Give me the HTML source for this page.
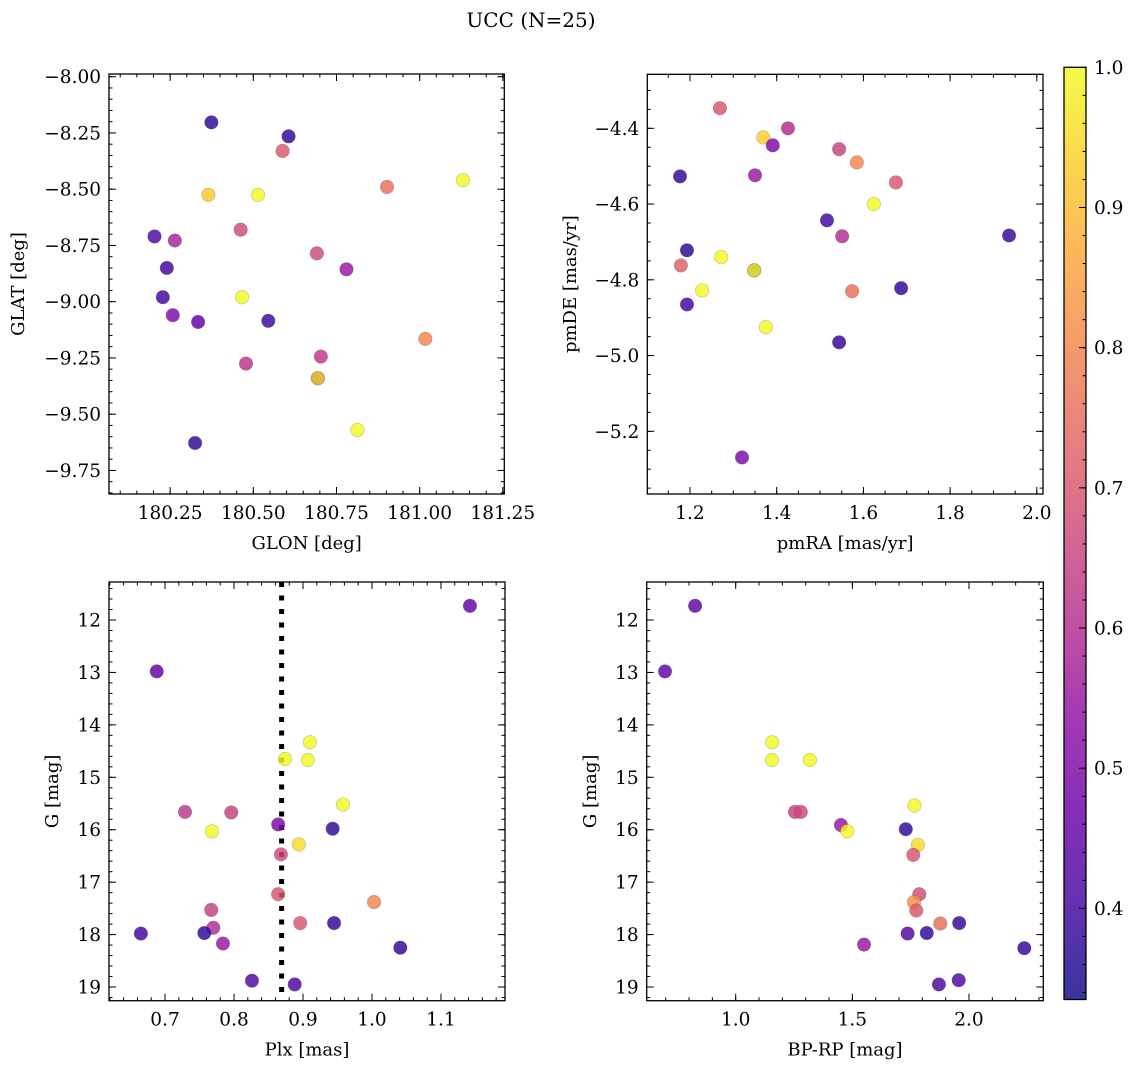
<!DOCTYPE html>
<html><head><meta charset="utf-8"><style>
html,body{margin:0;padding:0;background:#fff}
svg{display:block;font-family:"DejaVu Serif","Liberation Serif",serif}
</style></head><body>
<svg id="fig" width="1136" height="1067" viewBox="0 0 1136 1067" xmlns="http://www.w3.org/2000/svg">
<defs>
<linearGradient id="cbgrad" x1="0" y1="1" x2="0" y2="0">
<stop offset="0" stop-color="#3d399f"/>
</linearGradient>
</defs>
<text x="531" y="27" text-anchor="middle" font-size="20">UCC (N=25)</text>
<g id="plots"></g>
</svg>
<script>
// ---- data ----
const glon = [180.694,180.374,180.606,180.588,180.365,180.514,180.902,181.13,180.203,180.264,180.462,180.24,180.691,180.78,180.228,180.466,180.258,180.334,180.545,181.017,180.703,180.478,180.694,180.813,180.325];
const glat = [-9.34,-8.203,-8.265,-8.33,-8.525,-8.525,-8.49,-8.46,-8.71,-8.728,-8.68,-8.85,-8.785,-8.856,-8.98,-8.98,-9.06,-9.09,-9.085,-9.165,-9.244,-9.275,-9.34,-9.57,-9.628];
const probTL = [0.4,0.37,0.38,0.7,0.92,1.0,0.75,1.0,0.42,0.58,0.67,0.4,0.67,0.55,0.4,1.0,0.5,0.45,0.4,0.8,0.63,0.62,0.95,1.0,0.38];

const pmra = [1.269,1.426,1.369,1.391,1.177,1.350,1.544,1.585,1.675,1.624,1.516,1.551,1.936,1.193,1.272,1.179,1.348,1.348,1.228,1.574,1.687,1.193,1.375,1.544,1.320];
const pmde = [-4.347,-4.40,-4.424,-4.445,-4.527,-4.524,-4.455,-4.49,-4.543,-4.60,-4.643,-4.685,-4.683,-4.722,-4.74,-4.762,-4.775,-4.775,-4.828,-4.83,-4.822,-4.865,-4.925,-4.965,-5.269];
const probTR = [0.7,0.6,0.93,0.5,0.38,0.55,0.65,0.8,0.7,1.0,0.4,0.6,0.38,0.37,1.0,0.72,0.4,1.0,1.0,0.75,0.38,0.4,1.0,0.38,0.5];

const plx = [1.142,0.688,0.874,0.910,0.907,0.958,0.729,0.796,0.768,0.864,0.943,0.894,0.868,0.864,1.003,0.767,0.770,0.896,0.945,0.665,0.757,0.784,1.041,0.826,0.888];
const gmagBL = [11.73,12.98,14.65,14.33,14.67,15.52,15.66,15.67,16.03,15.90,15.98,16.28,16.47,17.23,17.38,17.53,17.87,17.78,17.78,17.98,17.97,18.17,18.25,18.88,18.95];
const probBL = [0.45,0.45,1.0,1.0,1.0,1.0,0.63,0.65,1.0,0.5,0.38,0.95,0.68,0.7,0.8,0.65,0.6,0.7,0.38,0.4,0.37,0.55,0.38,0.42,0.42];
const plxLine = [0.869];

const bprp = [0.826,0.697,1.156,1.156,1.318,1.254,1.279,1.451,1.478,1.766,1.729,1.781,1.761,1.787,1.764,1.774,1.877,1.958,1.737,1.819,1.550,2.237,1.871,1.956];
const gmagBR = [11.73,12.98,14.33,14.67,14.67,15.66,15.66,15.91,16.03,15.54,15.99,16.29,16.48,17.23,17.38,17.54,17.79,17.78,17.98,17.97,18.19,18.26,18.95,18.87];
const probBR = [0.45,0.45,1.0,1.0,1.0,0.65,0.67,0.55,1.0,1.0,0.38,0.95,0.7,0.68,0.82,0.7,0.75,0.38,0.42,0.38,0.55,0.38,0.42,0.42];

const ticksTLx = [180.25,180.50,180.75,181.00,181.25];
const ticksTLy = [-8.00,-8.25,-8.50,-8.75,-9.00,-9.25,-9.50,-9.75];
const ticksTRx = [1.2,1.4,1.6,1.8,2.0];
const ticksTRy = [-4.4,-4.6,-4.8,-5.0,-5.2];
const ticksBLx = [0.7,0.8,0.9,1.0,1.1];
const ticksGy = [12,13,14,15,16,17,18,19];
const ticksBRx = [1.0,1.5,2.0];
const ticksCbar = [0.4,0.5,0.6,0.7,0.8,0.9,1.0];

const VMIN = 0.335, VMAX = 1.0;
const NS = 'http://www.w3.org/2000/svg';
const root = document.getElementById('plots');

const plasma = ['#0d0887','#41049d','#6a00a8','#8f0da4','#b12a90','#cc4778','#e16462','#f2844b','#fca636','#fcce25','#f0f921'];
function hex(h){return [parseInt(h.substr(1,2),16),parseInt(h.substr(3,2),16),parseInt(h.substr(5,2),16)];}
function cmap(t){
  t=Math.max(0,Math.min(1,t));
  const f=t*10, i=Math.min(9,Math.floor(f)), r=f-i;
  const a=hex(plasma[i]), b=hex(plasma[i+1]);
  return 'rgb('+a.map((v,k)=>Math.round(v+(b[k]-v)*r)).join(',')+')';
}
function colorOf(v){return cmap((v-VMIN)/(VMAX-VMIN));}
function mk(tag, attrs, parent){
  const e=document.createElementNS(NS,tag);
  for(const k in attrs) e.setAttribute(k,attrs[k]);
  (parent||root).appendChild(e); return e;
}
function fmt(v,d){return (v<0?'\u2212':'')+Math.abs(v).toFixed(d);}

function panel(o){
  const g=mk('g',{});
  
  
  const sx=v=>o.x0+(v-o.xmin)/(o.xmax-o.xmin)*(o.x1-o.x0);
  const sy=v=>o.inv ? o.y0+(v-o.ymin)/(o.ymax-o.ymin)*(o.y1-o.y0)
                    : o.y1-(v-o.ymin)/(o.ymax-o.ymin)*(o.y1-o.y0);
  const tk=mk('g',{stroke:'#000','stroke-width':1},g);
  
  
  const xs=Math.ceil(o.xmin/o.xminor-1e-6), xe=Math.floor(o.xmax/o.xminor+1e-6);
  for(let i=xs;i<=xe;i++){const X=sx(i*o.xminor);
    mk('line',{x1:X,x2:X,y1:o.y1,y2:o.y1-3.5},tk); mk('line',{x1:X,x2:X,y1:o.y0,y2:o.y0+3.5},tk);}
  const lo=Math.min(o.ymin,o.ymax), hi=Math.max(o.ymin,o.ymax);
  const ys=Math.ceil(lo/o.yminor-1e-6), ye=Math.floor(hi/o.yminor+1e-6);
  for(let i=ys;i<=ye;i++){const Y=sy(i*o.yminor);
    mk('line',{x1:o.x0,x2:o.x0+3.5,y1:Y,y2:Y},tk); mk('line',{x1:o.x1,x2:o.x1-3.5,y1:Y,y2:Y},tk);}
  o.xt.forEach(v=>{const X=sx(v);
    mk('line',{x1:X,x2:X,y1:o.y1,y2:o.y1-7},tk); mk('line',{x1:X,x2:X,y1:o.y0,y2:o.y0+7},tk);
    const t=mk('text',{x:X,y:o.y1+25,'text-anchor':'middle','font-size':18.5},g);
    
    
    t.textContent=fmt(v,o.xd);});
  o.yt.forEach(v=>{const Y=sy(v);
    mk('line',{x1:o.x0,x2:o.x0+7,y1:Y,y2:Y},tk); mk('line',{x1:o.x1,x2:o.x1-7,y1:Y,y2:Y},tk);
    const t=mk('text',{x:o.x0-8,y:Y+6.5,'text-anchor':'end','font-size':18.5},g);
    
    
    t.textContent=fmt(v,o.yd);});
  if(o.vline){o.vline.forEach(v=>{const X=sx(v);
    const l=mk('line',{x1:X,x2:X,y1:o.y0,y2:o.y1,stroke:'#000','stroke-width':5,'stroke-dasharray':'5,8.5'},g);
    
    });}
  for(let i=0;i<o.xs.length;i++){
    const c=mk('circle',{cx:sx(o.xs[i]),cy:sy(o.ys[i]),r:6.8,fill:colorOf(o.cs[i]),'fill-opacity':0.82,stroke:'#555','stroke-opacity':0.35,'stroke-width':0.6},g);
    
    
  }
  const fr=mk('rect',{x:o.x0,y:o.y0,width:o.x1-o.x0,height:o.y1-o.y0,fill:'none',stroke:'#000','stroke-width':1.3},g);
  
  
  const xl=mk('text',{x:(o.x0+o.x1)/2,y:o.y1+55,'text-anchor':'middle','font-size':18},g);
  
  
  xl.textContent=o.xlabel;
  const yx=o.ylx, yy=(o.y0+o.y1)/2;
  const yl=mk('text',{x:yx,y:yy,'text-anchor':'middle','font-size':18,transform:'rotate(-90 '+yx+' '+yy+')'},g);
  
  
  yl.textContent=o.ylabel;
}

panel({name:'glon-glat-panel',x0:109,x1:504.3,y0:74,y1:494,xmin:180.0662,xmax:181.2544,ymin:-9.8547,ymax:-7.988,
  xminor:0.05,yminor:0.05,xt:ticksTLx,yt:ticksTLy,xd:2,yd:2,xs:glon,ys:glat,cs:probTL,xlabel:'GLON [deg]',ylabel:'GLAT [deg]',ylx:24});
panel({name:'pm-panel',x0:647.3,x1:1043,y0:74.3,y1:494,xmin:1.1015,xmax:2.0143,ymin:-5.3655,ymax:-4.2574,
  xminor:0.05,yminor:0.05,xt:ticksTRx,yt:ticksTRy,xd:1,yd:1,xs:pmra,ys:pmde,cs:probTR,xlabel:'pmRA [mas/yr]',ylabel:'pmDE [mas/yr]',ylx:576});
panel({name:'plx-g-panel',x0:109,x1:505,y0:582,y1:1000.7,xmin:0.6188,xmax:1.1928,ymin:11.275,ymax:19.261,inv:true,
  xminor:0.02,yminor:0.2,xt:ticksBLx,yt:ticksGy,xd:1,yd:0,xs:plx,ys:gmagBL,cs:probBL,vline:plxLine,xlabel:'Plx [mas]',ylabel:'G [mag]',ylx:58});
panel({name:'cmd-panel',x0:646.7,x1:1043.3,y0:582,y1:1000.7,xmin:0.6185,xmax:2.3185,ymin:11.275,ymax:19.261,inv:true,
  xminor:0.1,yminor:0.2,xt:ticksBRx,yt:ticksGy,xd:1,yd:0,xs:bprp,ys:gmagBR,cs:probBR,xlabel:'BP-RP [mag]',ylabel:'G [mag]',ylx:596});

(function(){
  const cx0=1064,cx1=1086,cy0=67.3,cy1=999.5;
  const grad=document.getElementById('cbgrad');
  grad.innerHTML='';
  for(let k=0;k<=20;k++){const t=k/20;
    const s=document.createElementNS(NS,'stop');s.setAttribute('offset',t);s.setAttribute('stop-color',cmap(t));s.setAttribute('stop-opacity',0.82);grad.appendChild(s);}
  const g=mk('g',{});
  
  
  mk('rect',{x:cx0,y:cy0,width:cx1-cx0,height:cy1-cy0,fill:'url(#cbgrad)',stroke:'#000','stroke-width':1.3},g);
  const sy=v=>cy1-(v-VMIN)/(VMAX-VMIN)*(cy1-cy0);
  for(let i=Math.ceil(VMIN/0.02);i<=50;i++){const Y=sy(i*0.02);
    mk('line',{x1:cx1,x2:cx1-3.5,y1:Y,y2:Y,stroke:'#000','stroke-width':1},g);}
  ticksCbar.forEach(v=>{const Y=sy(v);
    mk('line',{x1:cx1,x2:cx1-7,y1:Y,y2:Y,stroke:'#000','stroke-width':1},g);
    const t=mk('text',{x:cx1+8,y:Y+6.5,'font-size':18.5},g);
    
    
    t.textContent=v.toFixed(1);});
})();
</script>
</body></html>
